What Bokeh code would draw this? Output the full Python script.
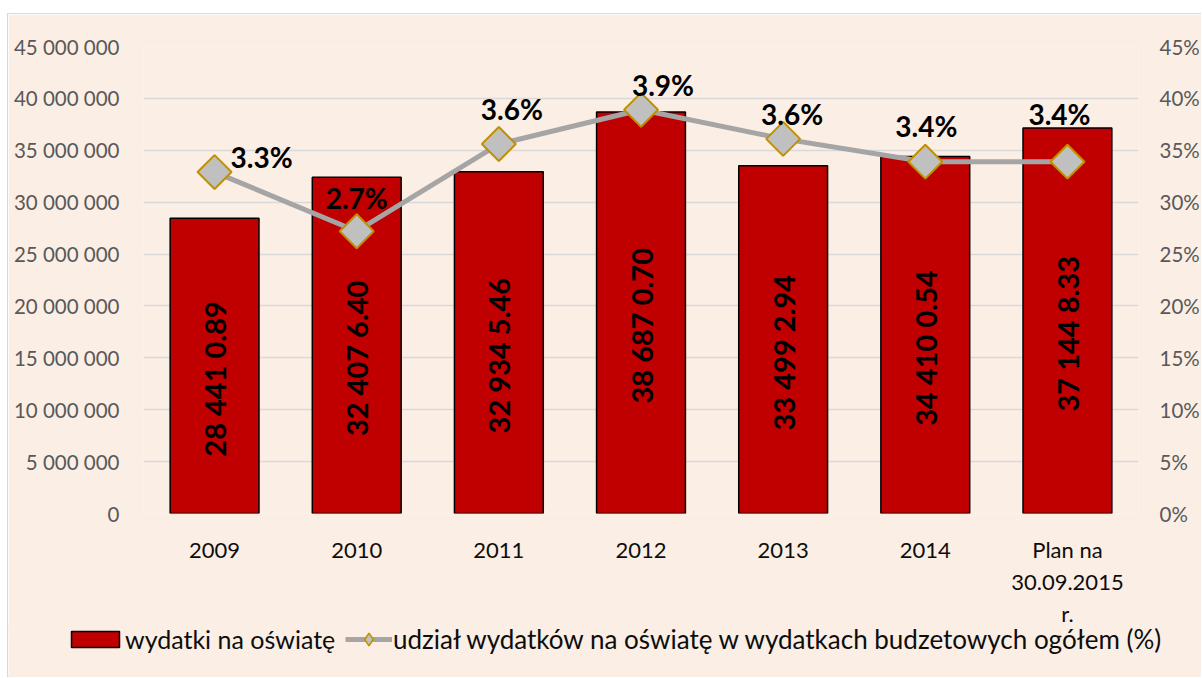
import math
from bokeh.plotting import figure
from bokeh.models import (ColumnDataSource, Range1d, LinearAxis, FixedTicker,
                          Legend, LegendItem, FactorRange)
from bokeh.core.properties import value
from bokeh.embed import file_html
from bokeh.resources import INLINE

# ---------------- data ----------------
categories = ["2009", "2010", "2011", "2012", "2013", "2014", "Plan na\n30.09.2015\nr."]
expenditure = [28441089, 32407640, 32934546, 38687070, 33499294, 34410054, 37144833]
expenditure_labels = ["28 441 0.89", "32 407 6.40", "32 934 5.46", "38 687 0.70",
                      "33 499 2.94", "34 410 0.54", "37 144 8.33"]
share_pct = [3.29, 2.72, 3.56, 3.89, 3.61, 3.39, 3.39]
left_ticks = [0, 5000000, 10000000, 15000000, 20000000, 25000000,
              30000000, 35000000, 40000000, 45000000]
left_tick_labels = ["0", "5 000 000", "10 000 000", "15 000 000", "20 000 000",
                    "25 000 000", "30 000 000", "35 000 000", "40 000 000", "45 000 000"]
right_ticks = [0, 0.5, 1.0, 1.5, 2.0, 2.5, 3.0, 3.5, 4.0, 4.5]
right_tick_labels = ["0%", "5%", "10%", "15%", "20%", "25%", "30%", "35%", "40%", "45%"]
series_names = ["wydatki na oświatę",
                "udział wydatków na oświatę w wydatkach budzetowych ogółem (%)"]

# label placement (screen-pixel offsets, styling only)
pct_label_dx = [47, 0, 13, 22, 9, 1, -8]
pct_label_dy = [-15, -33, -35, -25, -25, -36, -48]

# ---------------- styles ----------------
BG = "#FBEEE5"
FONT = "Lato"
BAR_FILL, BAR_LINE = "#C00000", "#000000"
LINE_COLOR = "#A5A5A5"
MARK_FILL, MARK_LINE = "#C0C0C0", "#BF9000"
W = 1194

bar_src = ColumnDataSource(dict(
    cat=categories,
    val=expenditure,
    mid=[v / 2 for v in expenditure],
    lbl=expenditure_labels,
))
line_src = ColumnDataSource(dict(
    cat=categories,
    share=share_pct,
    lbl=[f"{v:.1f}%" for v in share_pct],
    dx=pct_label_dx,
    dy=pct_label_dy,
))

p = figure(
    x_range=FactorRange(*categories, range_padding=0),
    y_range=Range1d(0, 45000000),
    width=W, height=624,
    output_backend="svg", toolbar_location=None,
    min_border_left=135, min_border_right=63, min_border_top=32, min_border_bottom=125,
    background_fill_color=BG, border_fill_color=BG, outline_line_color=None,
)
p.extra_y_ranges = {"pct": Range1d(0, 4.5)}

# grid
p.xgrid.grid_line_color = None
p.ygrid.grid_line_color = "#D9D9D9"
p.ygrid.grid_line_width = 1.5
p.ygrid.ticker = FixedTicker(ticks=left_ticks)

# left axis
yax = p.yaxis[0]
yax.ticker = FixedTicker(ticks=left_ticks)
yax.major_label_overrides = {t: l for t, l in zip(left_ticks, left_tick_labels)}
yax.axis_line_color = None
yax.major_tick_line_color = None
yax.major_tick_out = 0
yax.minor_tick_line_color = None
yax.minor_tick_out = 0
yax.major_label_standoff = 24
yax.major_label_text_font = FONT
yax.major_label_text_font_size = "20.5px"
yax.major_label_text_color = "#595959"

# right axis
rax = LinearAxis(y_range_name="pct", ticker=FixedTicker(ticks=right_ticks))
rax.major_label_overrides = {t: l for t, l in zip(right_ticks, right_tick_labels)}
rax.axis_line_color = None
rax.major_tick_line_color = None
rax.major_tick_out = 0
rax.minor_tick_line_color = None
rax.minor_tick_out = 0
rax.major_label_standoff = 21
rax.major_label_text_font = FONT
rax.major_label_text_font_size = "20.5px"
rax.major_label_text_color = "#595959"
p.add_layout(rax, "right")

# x axis
xax = p.xaxis[0]
xax.axis_line_color = None
xax.major_tick_line_color = None
xax.major_tick_out = 0
xax.minor_tick_line_color = None
xax.minor_tick_out = 0
xax.major_label_standoff = 22
xax.major_label_text_font = FONT
xax.major_label_text_font_size = "22px"
xax.major_label_text_color = "#0d0d0d"
xax.major_label_text_line_height = 1.2

# bars
bars = p.vbar(x="cat", top="val", width=0.625, source=bar_src,
              fill_color=BAR_FILL, line_color=BAR_LINE, line_width=1.5)
p.text(x="cat", y="mid", text="lbl", source=bar_src, angle=math.pi / 2,
       y_offset=13, text_align="center", text_baseline="middle",
       text_font=value(FONT), text_font_style="bold", text_font_size="29px",
       text_color="#000000")

# line + markers
p.line(x="cat", y="share", source=line_src, y_range_name="pct",
       line_color=LINE_COLOR, line_width=5)
p.scatter(x="cat", y="share", source=line_src, y_range_name="pct",
          marker="square", angle=math.pi / 4, size=24,
          fill_color=MARK_FILL, line_color=MARK_LINE, line_width=2)
p.text(x="cat", y="share", text="lbl", source=line_src, y_range_name="pct",
       x_offset="dx", y_offset="dy", text_align="center", text_baseline="middle",
       text_font=value(FONT), text_font_style="bold", text_font_size="28px",
       text_color="#000000")

p.styles = {"margin-top": "13px", "margin-left": "7px",
            "border-left": "1px solid #D9D9D9", "border-top": "1px solid #D9D9D9"}

# ---------------- legend strip (separate root, full-width frame) ----------------
lp = figure(width=W, height=54, output_backend="svg", toolbar_location=None,
            x_range=Range1d(0, 1), y_range=Range1d(0, 1),
            x_axis_location=None, y_axis_location=None,
            min_border_left=0, min_border_right=0, min_border_top=0, min_border_bottom=0,
            background_fill_color=BG, border_fill_color=BG, outline_line_color=None)
lp.grid.grid_line_color = None
offscreen = ColumnDataSource(dict(x=[-10.0], y=[-10.0], top=[-10.0]))
lg_bar = lp.vbar(x="x", top="top", width=0.5, source=offscreen,
                 fill_color=BAR_FILL, line_color=BAR_LINE, line_width=1.5)
lg_line = lp.line(x="x", y="y", source=offscreen, line_color=LINE_COLOR, line_width=5)
lg_mark = lp.scatter(x="x", y="y", source=offscreen, marker="diamond",
                     size=24, fill_color=MARK_FILL, line_color=MARK_LINE, line_width=1.5)

legend_common = dict(orientation="horizontal", border_line_color=None,
                     background_fill_alpha=0, padding=0, margin=0,
                     label_text_font=FONT, label_text_color="#0d0d0d")
legend_bar = Legend(
    items=[LegendItem(label=series_names[0], renderers=[lg_bar])],
    location=(57, 23), glyph_width=60, glyph_height=20, label_standoff=0,
    label_text_font_size="25px", **legend_common,
)
legend_line = Legend(
    items=[LegendItem(label=series_names[1], renderers=[lg_line, lg_mark])],
    location=(337, 22), glyph_width=47, glyph_height=32, label_standoff=1,
    label_text_font_size="26px", **legend_common,
)
lp.add_layout(legend_bar)
lp.add_layout(legend_line)
lp.styles = {"margin-left": "7px", "margin-top": "-14px",
             "border-left": "1px solid #D9D9D9"}

open("out.html", "w").write(file_html([p, lp], INLINE))
